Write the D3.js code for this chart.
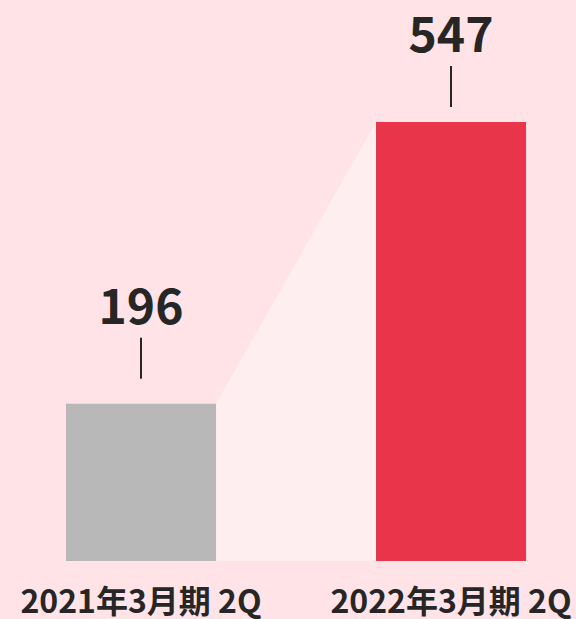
<!DOCTYPE html>
<html>
<head>
<meta charset="utf-8">
<script src="https://cdn.jsdelivr.net/npm/d3@7"></script>
<style>
  html, body { margin: 0; padding: 0; background: #ffe3e6; }
  svg { display: block; }
  text { font-family: "Noto Sans CJK JP", "Noto Sans", sans-serif; font-weight: 700; fill: #262626; }
</style>
</head>
<body>
<div id="grafico"></div>
<script>
// dados do gráfico
var periodos = ["2021年3月期 2Q", "2022年3月期 2Q"];
var valores = [196, 547];
var cores = ["#b8b8b8", "#e8354a"];

var largura = 576, altura = 619;
var base = 561;

var svg = d3.select("#grafico")
    .append("svg")
    .attr("width", largura)
    .attr("height", altura);

svg.append("rect")
    .attr("width", largura)
    .attr("height", altura)
    .attr("fill", "#ffe3e6");

var x = d3.scaleBand()
    .domain(periodos)
    .range([66, 526])
    .paddingInner(0.516)
    .paddingOuter(0);

var y = d3.scaleLinear()
    .domain([0, 547])
    .range([base, 122]);

// área clara ligando as barras
var p0 = periodos[0], p1 = periodos[1];
var pontos = [
    [x(p0) + x.bandwidth(), y(valores[0])],
    [x(p1), y(valores[1])],
    [x(p1), y(0)],
    [x(p0) + x.bandwidth(), y(0)]
];
svg.append("polygon")
    .attr("points", pontos.map(function(p) { return p.join(","); }).join(" "))
    .attr("fill", "#ffeef0");

// barras
svg.selectAll(".barra")
    .data(valores)
    .enter()
    .append("rect")
    .attr("class", "barra")
    .attr("x", function(d, i) { return x(periodos[i]); })
    .attr("y", function(d) { return y(d); })
    .attr("width", x.bandwidth())
    .attr("height", function(d) { return y(0) - y(d); })
    .attr("fill", function(d, i) { return cores[i]; });

// espaço entre a barra e o traço
var folga = [25, 15];

svg.selectAll(".traco")
    .data(valores)
    .enter()
    .append("line")
    .attr("class", "traco")
    .attr("x1", function(d, i) { return x(periodos[i]) + x.bandwidth() / 2; })
    .attr("x2", function(d, i) { return x(periodos[i]) + x.bandwidth() / 2; })
    .attr("y1", function(d, i) { return y(d) - folga[i]; })
    .attr("y2", function(d, i) { return y(d) - folga[i] - 41; })
    .attr("stroke", "#262626")
    .attr("stroke-width", 2);

svg.selectAll(".valor")
    .data(valores)
    .enter()
    .append("text")
    .attr("class", "valor")
    .attr("x", function(d, i) { return x(periodos[i]) + x.bandwidth() / 2; })
    .attr("y", function(d, i) { return y(d) - folga[i] - 55; })
    .attr("text-anchor", "middle")
    .attr("font-size", 48)
    .text(function(d) { return d; });

// rótulos do eixo
svg.selectAll(".rotulo")
    .data(periodos)
    .enter()
    .append("text")
    .attr("class", "rotulo")
    .attr("x", function(d) { return x(d) + x.bandwidth() / 2; })
    .attr("y", 613)
    .attr("text-anchor", "middle")
    .attr("font-size", 32)
    .text(function(d) { return d; });
</script>
</body>
</html>
